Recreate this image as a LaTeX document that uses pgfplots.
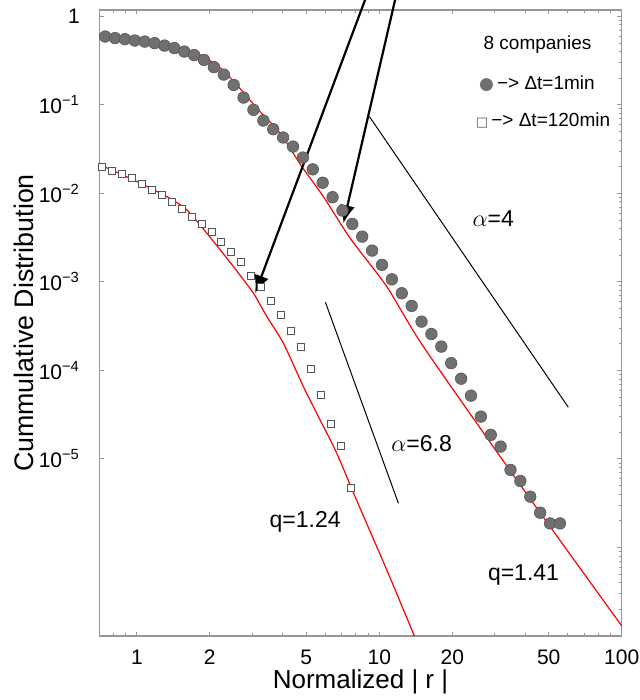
\documentclass[border=0pt]{standalone}
\usepackage{pgfplots}
\pgfplotsset{compat=1.18}
\usepackage{fontspec}
\setmainfont{Liberation Sans}
\newfontfamily\dejavu{DejaVu Sans}
\usetikzlibrary{arrows.meta}
\definecolor{circfill}{RGB}{112,112,112}
\definecolor{circedge}{RGB}{85,85,85}
\definecolor{sqedge}{RGB}{85,85,85}
\definecolor{axgray}{RGB}{150,150,150}
\begin{document}
\begin{tikzpicture}
\useasboundingbox (0,0) rectangle (320pt,350pt);
% right-side ticks (major and minor)
\begin{axis}[
  at={(49.65pt,32pt)}, anchor=south west,
  scale only axis, width=261.2pt, height=313pt,
  xmode=log, ymode=log,
  xmin=0.7, xmax=100, ymin=1e-7, ymax=1.18,
  axis line style={draw=axgray, line width=0.6pt},
  every tick/.style={draw=axgray, line width=0.5pt},
  tick align=inside,
  hide x axis,
  axis y line*=right,
  ytick={1e-7,1e-6,1e-5,1e-4,1e-3,1e-2,1e-1,1},
  yticklabels={},
  minor ytick={2e-7,3e-7,4e-7,5e-7,6e-7,7e-7,8e-7,9e-7,
               2e-6,3e-6,4e-6,5e-6,6e-6,7e-6,8e-6,9e-6,
               2e-5,3e-5,4e-5,5e-5,6e-5,7e-5,8e-5,9e-5,
               2e-4,3e-4,4e-4,5e-4,6e-4,7e-4,8e-4,9e-4,
               2e-3,3e-3,4e-3,5e-3,6e-3,7e-3,8e-3,9e-3,
               2e-2,3e-2,4e-2,5e-2,6e-2,7e-2,8e-2,9e-2,
               0.2,0.3,0.4,0.5,0.6,0.7,0.8,0.9},
  major tick length=2.2pt, minor tick length=1.4pt,
]
\end{axis}
\begin{axis}[
  at={(49.65pt,32pt)}, anchor=south west,
  scale only axis, width=261.2pt, height=313pt,
  xmode=log, ymode=log,
  xmin=0.7, xmax=100, ymin=1e-7, ymax=1.18,
  axis line style={draw=axgray, line width=0.6pt},
  every tick/.style={draw=axgray, line width=0.5pt},
  tick align=inside,
  clip=false,
  ytick pos=left,
  xtick={1,2,5,10,20,50,100}, xticklabels={1,2,5,10,20,50,100},
  minor xtick={0.8,0.9,3,4,6,7,8,9,30,40,60,70,80,90},
  ytick={1,0.1,0.01,0.001,1e-4,1e-5},
  yticklabels={1,10\textsuperscript{−1},10\textsuperscript{−2},10\textsuperscript{−3},10\textsuperscript{−4},10\textsuperscript{−5}},
  major tick length=2.2pt, minor tick length=1.4pt,
  xticklabel style={font=\fontsize{10.5}{12}\selectfont, inner sep=0pt, anchor=center, yshift=-10.5pt},
  yticklabel style={font=\fontsize{10.5}{12}\selectfont, inner sep=0pt, anchor=east, xshift=-9.5pt},
  xlabel={Normalized | r |},
  ylabel={Cummulative Distribution},
  xlabel style={font=\fontsize{13}{15}\selectfont, at={(axis description cs:0.5,-0.073)}, anchor=center},
  ylabel style={font=\fontsize{13.4}{15}\selectfont, at={(axis description cs:-0.144,0.5)}, anchor=center},
]
% dt = 1 min (circles)
\addplot[only marks, mark=*, mark size=2.9pt, mark options={fill=circfill, draw=circedge, line width=0.3pt}] coordinates {
(0.740,0.592) (0.813,0.568) (0.893,0.552) (0.981,0.533) (1.078,0.519)
(1.184,0.498) (1.300,0.468) (1.428,0.438) (1.569,0.400) (1.723,0.365)
(1.893,0.322) (2.079,0.267) (2.284,0.220) (2.508,0.168) (2.755,0.121)
(3.027,0.0879) (3.325,0.0665) (3.652,0.0531) (4.012,0.0428) (4.407,0.0338)
(4.841,0.0254) (5.317,0.0187) (5.841,0.0132) (6.416,0.00906) (7.047,0.00640)
(7.741,0.00452) (8.503,0.00325) (9.341,0.00226) (10.26,0.00156) (11.27,0.00107)
(12.38,7.45e-4) (13.60,5.36e-4) (14.94,3.56e-4) (16.41,2.58e-4) (18.03,1.86e-4)
(19.80,1.21e-4) (21.75,8.07e-5) (23.89,5.19e-5) (26.24,3.01e-5) (28.83,1.87e-5)
(31.66,1.38e-5) (34.78,7.52e-6) (38.20,5.64e-6) (41.96,3.75e-6) (46.09,2.47e-6)
(50.63,1.87e-6) (55.62,1.87e-6)
};
% dt = 120 min (squares)
\addplot[only marks, mark=square*, mark size=1.75pt, mark options={fill=white, draw=sqedge, line width=0.5pt}] coordinates {
(0.717,0.0201) (0.789,0.0181) (0.867,0.0166) (0.953,0.0149) (1.047,0.0127)
(1.151,0.0110) (1.266,0.00962) (1.391,0.00808) (1.530,0.00668) (1.681,0.00547)
(1.848,0.00452) (2.032,0.00364) (2.234,0.00281) (2.455,0.00217) (2.699,0.00166)
(2.968,0.00117) (3.262,8.72e-4) (3.586,6.10e-4) (3.942,4.24e-4) (4.334,2.79e-4)
(4.764,1.86e-4) (5.236,1.04e-4) (5.756,5.28e-5) (6.327,2.48e-5) (6.956,1.40e-5)
(7.646,4.67e-6)
};
% q = 1.41 fit
\addplot[red, line width=0.6pt, smooth, tension=0.4] coordinates {
(0.70,0.602) (0.965,0.542) (1.411,0.456) (1.824,0.367) (2.206,0.262)
(2.585,0.168) (3.172,0.0879) (3.898,0.0479) (4.790,0.0201) (5.883,0.00920)
(7.580,0.00312) (10.74,8.85e-4) (15.20,1.86e-4) (38.08,5.13e-6) (100,1.30e-7)
};
% q = 1.24 fit
\addplot[red, line width=0.6pt, smooth, tension=0.4] coordinates {
(0.70,0.0212) (0.968,0.01422) (1.329,0.00920) (1.608,0.00651) (1.944,0.00355)
(2.502,0.00149) (3.026,7.45e-4) (3.437,4.06e-4) (4.023,2.03e-4) (4.864,6.56e-5)
(5.701,2.76e-5) (6.680,1.16e-5) (7.948,3.75e-6) (10.74,5.57e-7) (13.96,1.0e-7)
};
% slope guide lines
\addplot[black, line width=0.5pt] coordinates {(9.104,0.0738) (60.23,3.84e-5)};
\addplot[black, line width=0.5pt] coordinates {(5.995,5.90e-4) (11.99,3.16e-6)};
% arrows
\draw[black, line width=1.1pt, -{Latex[length=9pt,width=7.5pt]}] (axis cs:8.737,1.536) -- (axis cs:3.075,7.45e-4);
\draw[black, line width=1.1pt, -{Latex[length=9pt,width=7.5pt]}] (axis cs:11.62,1.536) -- (axis cs:7.112,4.60e-3);
% annotations
\node[font=\fontsize{11.5}{13}\selectfont] at (rel axis cs:0.754,0.667) {$\alpha$=4};
\node[font=\fontsize{11.5}{13}\selectfont] at (rel axis cs:0.617,0.308) {$\alpha$=6.8};
\node[font=\fontsize{11.5}{13}\selectfont] at (rel axis cs:0.394,0.183) {q=1.24};
\node[font=\fontsize{11.5}{13}\selectfont] at (rel axis cs:0.812,0.0974) {q=1.41};
\node[font=\fontsize{9.5}{11}\selectfont] at (rel axis cs:0.8388,0.9441) {8 companies};
\node[font=\fontsize{9.5}{11}\selectfont] at (rel axis cs:0.8377,0.8829) {\textcolor{circfill}{\dejavu\fontsize{8.5}{8.5}\selectfont ●}\,−> Δt=1min};
\node[font=\fontsize{9.5}{11}\selectfont] at (rel axis cs:0.8494,0.8243) {\textcolor{sqedge}{\dejavu\fontsize{6.5}{6.5}\selectfont □}\,−> Δt=120min};
\end{axis}
\end{tikzpicture}
\end{document}
